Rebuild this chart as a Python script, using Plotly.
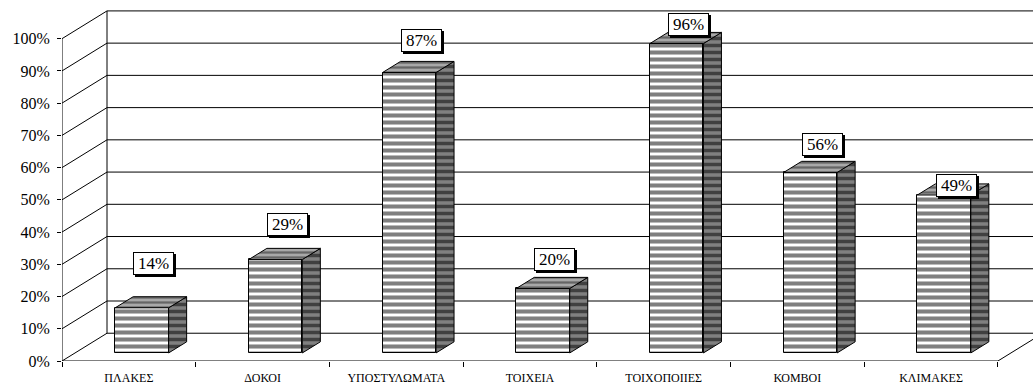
import plotly.graph_objects as go

# ---- data ----
categories = ["ΠΛΑΚΕΣ", "ΔΟΚΟΙ", "ΥΠΟΣΤΥΛΩΜΑΤΑ", "ΤΟΙΧΕΙΑ", "ΤΟΙΧΟΠΟΙΙΕΣ", "ΚΟΜΒΟΙ", "ΚΛΙΜΑΚΕΣ"]
values = [14, 29, 87, 20, 96, 56, 49]
y_ticks = [0, 10, 20, 30, 40, 50, 60, 70, 80, 90, 100]
y_tick_labels = ["0%", "10%", "20%", "30%", "40%", "50%", "60%", "70%", "80%", "90%", "100%"]

# ---- pseudo-3D styling (pixels converted to axis units) ----
W, H = 1033, 385
M_L, M_B = 62, 21
CAT_PX = 133.7          # pixels per category
PCT_PX = 3.25           # pixels per percent
DEPTH_X_PX, DEPTH_Y_PX = 45, 28
DX = DEPTH_X_PX / CAT_PX
DY = DEPTH_Y_PX / PCT_PX
F0, F1 = 0.29, 0.69     # bar depth span (fraction of wall depth)
BAR_W = 0.4
x_min = -0.5
x_max = x_min + (W - M_L) / CAT_PX
y_max = (H - M_B) / PCT_PX
n = len(categories)
x_left_edge = -0.5
x_right_edge = n - 0.5
label_lift_px = [52, 43, 40, 37.5, 27, 36, 18]
label_shift_px = 25
font_family = "Liberation Serif"

fig = go.Figure()

# ---- walls and grid (drawn below the traces) ----
shapes = []
line_style = dict(color="#000000", width=1)
for v in y_ticks:
    shapes.append(dict(type="line", xref="x", yref="y", layer="below",
                       x0=x_left_edge + DX, y0=v + DY, x1=x_right_edge + DX, y1=v + DY,
                       line=line_style))
    shapes.append(dict(type="line", xref="x", yref="y", layer="below",
                       x0=x_left_edge, y0=v, x1=x_left_edge + DX, y1=v + DY,
                       line=line_style))
shapes.append(dict(type="line", xref="x", yref="y", layer="below",
                   x0=x_left_edge + DX, y0=y_ticks[0] + DY, x1=x_left_edge + DX, y1=y_ticks[-1] + DY,
                   line=line_style))
shapes.append(dict(type="line", xref="x", yref="y", layer="below",
                   x0=x_left_edge, y0=y_ticks[0], x1=x_left_edge, y1=y_ticks[-1],
                   line=line_style))
shapes.append(dict(type="line", xref="x", yref="y", layer="below",
                   x0=x_left_edge, y0=0, x1=x_right_edge, y1=0, line=line_style))
shapes.append(dict(type="line", xref="x", yref="y", layer="below",
                   x0=x_right_edge, y0=0, x1=x_right_edge + DX, y1=DY, line=line_style))

# ---- bar front faces ----
front_x = [i + F0 * DX for i in range(n)]
base = F0 * DY
fig.add_trace(go.Bar(
    x=front_x, y=values, base=[base] * n, width=[BAR_W] * n,
    marker=dict(color="white",
                line=dict(color="black", width=1),
                pattern=dict(shape="-", fgcolor="black", bgcolor="white",
                             size=7, solidity=0.58)),
    hoverinfo="skip", showlegend=False,
))

# ---- bar side and top faces ----
ddx = (F1 - F0) * DX
ddy = (F1 - F0) * DY
for i, v in enumerate(values):
    xl = front_x[i] - BAR_W / 2
    xr = front_x[i] + BAR_W / 2
    yb = base
    yt = base + v
    fig.add_trace(go.Scatter(
        x=[xr, xr + ddx, xr + ddx, xr, xr],
        y=[yb, yb + ddy, yt + ddy, yt, yb],
        mode="lines", fill="toself", fillcolor="#7a7a7a",
        fillpattern=dict(shape="-", fgcolor="#000000", bgcolor="#808080", size=7, solidity=0.5),
        line=dict(color="black", width=1),
        hoverinfo="skip", showlegend=False,
    ))
    fig.add_trace(go.Scatter(
        x=[xl, xr, xr + ddx, xl + ddx, xl],
        y=[yt, yt, yt + ddy, yt + ddy, yt],
        mode="lines", fill="toself", fillcolor="#909090",
        fillpattern=dict(shape="-", fgcolor="#222222", bgcolor="#a8a8a8", size=5, solidity=0.45),
        line=dict(color="black", width=1),
        hoverinfo="skip", showlegend=False,
    ))

# ---- data labels with drop shadow ----
annotations = []
for i, v in enumerate(values):
    txt = f"{v}%"
    common = dict(x=i, y=v, xref="x", yref="y", showarrow=False,
                  xanchor="center", yanchor="middle",
                  width=35, height=17, borderpad=2, borderwidth=1)
    annotations.append(dict(**common, text=txt,
                            font=dict(family=font_family, size=17, color="black"),
                            bgcolor="black", bordercolor="black",
                            xshift=label_shift_px + 2, yshift=label_lift_px[i] - 2))
    annotations.append(dict(**common, text=txt,
                            font=dict(family=font_family, size=17, color="black"),
                            bgcolor="white", bordercolor="black",
                            xshift=label_shift_px, yshift=label_lift_px[i]))

fig.update_layout(
    width=W, height=H,
    margin=dict(l=M_L, r=0, t=0, b=M_B, pad=0),
    paper_bgcolor="white", plot_bgcolor="white",
    shapes=shapes, annotations=annotations,
    font=dict(family=font_family, color="black"),
    xaxis=dict(range=[x_min, x_max], showgrid=False, zeroline=False, showline=False,
               tickmode="array", tickvals=[k - 0.5 for k in range(n + 1)],
               showticklabels=False, ticks="outside", ticklen=5, tickcolor="black", tickwidth=1),
    xaxis2=dict(range=[x_min, x_max], overlaying="x", anchor="y", side="bottom",
                showgrid=False, zeroline=False, showline=False,
                tickmode="array", tickvals=list(range(n)), ticktext=categories,
                ticks="", ticklabelstandoff=8,
                tickfont=dict(family=font_family, size=12, color="black")),
    yaxis=dict(range=[0, y_max], showgrid=False, zeroline=False, showline=False,
               tickmode="array", tickvals=y_ticks, ticktext=y_tick_labels,
               ticks="outside", ticklen=4, tickcolor="black", tickwidth=1,
               ticklabelstandoff=4,
               tickfont=dict(family=font_family, size=16, color="black")),
    bargap=0,
)
fig.add_trace(go.Scatter(x=[0], y=[0], xaxis="x2", yaxis="y", mode="markers",
                         marker=dict(opacity=0), hoverinfo="skip", showlegend=False))

fig.write_html("out.html")
